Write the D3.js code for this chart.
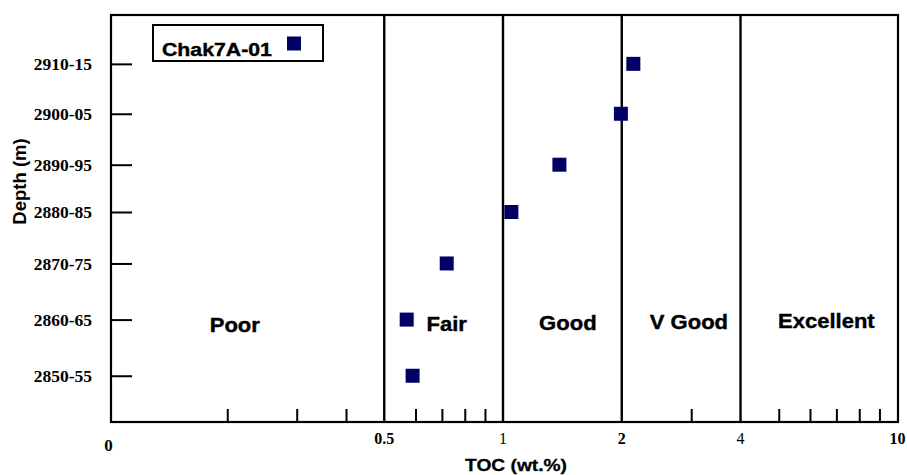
<!DOCTYPE html>
<html>
<head>
<meta charset="utf-8">
<script src="https://cdn.jsdelivr.net/npm/d3@7"></script>
<style>
  html, body { margin: 0; padding: 0; background: #fff; }
  svg { display: block; }
</style>
</head>
<body>
<svg id="chart" width="907" height="475"></svg>
<script>
// ---- data ----
const depthLabels = ["2850-55", "2860-65", "2870-75", "2880-85", "2890-95", "2900-05", "2910-15"];
// plotted depth position (m) of each interval
const depthPos = [2852.5, 2863.3, 2874.1, 2884.0, 2893.1, 2902.9, 2912.5];
const tocValues = [0.59, 0.57, 0.72, 1.05, 1.39, 1.99, 2.14];
const seriesName = "Chak7A-01";

const xTickValues = [0.1, 0.5, 1, 2, 4, 10];
const xTickLabels = ["0", "0.5", "1", "2", "4", "10"];
const xMinorTicks = [0.2, 0.3, 0.4, 0.6, 0.7, 0.8, 0.9, 3, 5, 6, 7, 8, 9];
const zoneBounds = [0.5, 1, 2, 4];
const zoneNames = ["Poor", "Fair", "Good", "V Good", "Excellent"];
const zoneLabelAt = [0.209, 0.72, 1.46, 2.96, 6.6];

// ---- layout ----
const svg = d3.select("#chart");
const frame = { left: 111, right: 898, top: 15, bottom: 422 };
const x = d3.scaleLog().domain([0.1, 10]).range([108.5, 897.5]);
const y = d3.scaleLinear().domain([2843.6, 2921.9]).range([frame.bottom, frame.top]);
const navy = "#000066";
const sans = "'Liberation Sans', Arial, Helvetica, sans-serif";
const serif = "'Liberation Serif', 'Times New Roman', serif";
const stretch = 1.13;

// frame
svg.append("rect")
  .attr("x", frame.left).attr("y", frame.top)
  .attr("width", frame.right - frame.left).attr("height", frame.bottom - frame.top)
  .attr("fill", "none").attr("stroke", "#000").attr("stroke-width", 2.2);

// zone boundary lines
svg.append("g").selectAll("line").data(zoneBounds).join("line")
  .attr("x1", d => x(d)).attr("x2", d => x(d))
  .attr("y1", frame.top).attr("y2", frame.bottom)
  .attr("stroke", "#000").attr("stroke-width", 2.4);

// bottom minor ticks (pointing up, inside)
const xAxis = d3.axisTop(x).tickValues(xMinorTicks).tickSize(13).tickFormat("");
const gx = svg.append("g").attr("transform", `translate(0,${frame.bottom})`).call(xAxis);
gx.select(".domain").remove();
gx.selectAll(".tick line").attr("stroke", "#000").attr("stroke-width", 2);

// bottom tick labels
svg.append("g").selectAll("text").data(xTickValues).join("text")
  .attr("x", d => x(d))
  .attr("y", (d, i) => i === 0 ? 451 : 444)
  .attr("text-anchor", "middle")
  .attr("font-family", serif)
  .attr("font-weight", (d, i) => (xTickLabels[i] === "1" || xTickLabels[i] === "4") ? "normal" : "bold")
  .attr("font-size", (d, i) => i === 0 ? 17 : 16)
  .attr("fill", "#000")
  .text((d, i) => xTickLabels[i]);

// left axis ticks (pointing right, inside) and labels
const yAxis = d3.axisRight(y).tickValues(depthPos).tickSize(21)
  .tickFormat((d, i) => depthLabels[i]);
const gy = svg.append("g").attr("transform", `translate(${frame.left},0)`).call(yAxis);
gy.select(".domain").remove();
gy.selectAll(".tick line").attr("stroke", "#000").attr("stroke-width", 2);
gy.selectAll(".tick text")
  .attr("x", -19).attr("dy", "0.34em")
  .attr("text-anchor", "end")
  .attr("font-family", serif).attr("font-weight", "bold").attr("font-size", 17.5)
  .attr("fill", "#000");

// zone labels
svg.append("g").selectAll("text").data(zoneNames).join("text")
  .attr("transform", (d, i) => `translate(${x(zoneLabelAt[i])},${[332, 331, 329.5, 329, 327.5][i]}) scale(${stretch},1)`)
  .attr("text-anchor", "middle")
  .attr("font-family", sans).attr("font-weight", "bold").attr("font-size", 19.5)
  .attr("fill", "#000").attr("stroke", "#000").attr("stroke-width", 0.4)
  .text(d => d);

// data points
const pts = depthPos.map((d, i) => ({ depth: d, toc: tocValues[i] }));
const ms = 14;
svg.append("g").selectAll("rect").data(pts).join("rect")
  .attr("x", d => x(d.toc) - ms / 2).attr("y", d => y(d.depth) - ms / 2)
  .attr("width", ms).attr("height", ms)
  .attr("fill", navy);

// legend
const lg = svg.append("g");
lg.append("rect").attr("x", 153).attr("y", 25).attr("width", 170).attr("height", 36)
  .attr("fill", "#fff").attr("stroke", "#000").attr("stroke-width", 2);
lg.append("text")
  .attr("transform", `translate(162,55.5) scale(1.15,1)`)
  .attr("font-family", sans).attr("font-weight", "bold").attr("font-size", 18.5)
  .attr("fill", "#000").attr("stroke", "#000").attr("stroke-width", 0.4).text(seriesName);
lg.append("rect").attr("x", 287).attr("y", 36.5).attr("width", ms).attr("height", ms).attr("fill", navy);

// axis titles
svg.append("text")
  .attr("transform", `translate(516,470.5) scale(${stretch},1)`)
  .attr("text-anchor", "middle")
  .attr("font-family", sans).attr("font-weight", "bold").attr("font-size", 17)
  .attr("fill", "#000").attr("stroke", "#000").attr("stroke-width", 0.3).text("TOC (wt.%)");

svg.append("text")
  .attr("transform", `translate(26,181.5) rotate(-90)`)
  .attr("text-anchor", "middle")
  .attr("font-family", sans).attr("font-weight", "bold").attr("font-size", 18.5)
  .attr("fill", "#000").text("Depth (m)");
</script>
</body>
</html>
